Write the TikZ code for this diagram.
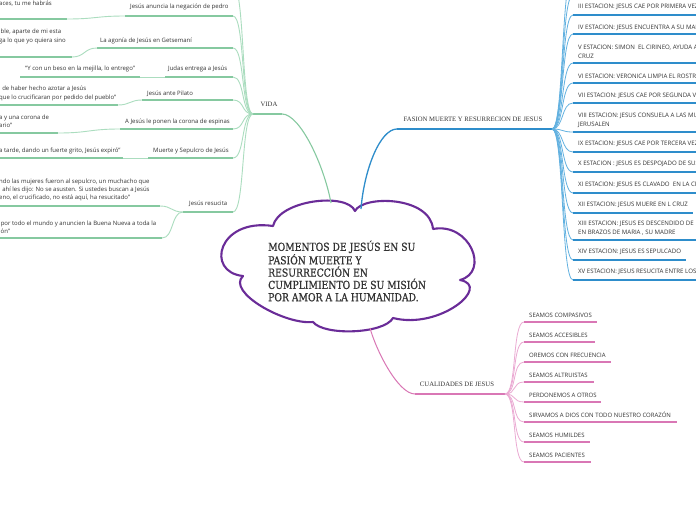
\documentclass[tikz,border=0pt]{standalone}
\usepackage{fontspec}
\newfontfamily\osans{Open Sans}
\newfontfamily\cloudf[FakeStretch=0.84,FakeBold=0.7]{DejaVu Serif}
\newfontfamily\tserif{Liberation Serif}
\definecolor{gU}{HTML}{86C9A0}
\definecolor{gC}{HTML}{ABDDBF}
\definecolor{bU}{HTML}{2E8DCB}
\definecolor{bC}{HTML}{62B1E0}
\definecolor{pU}{HTML}{D977B5}
\definecolor{pC}{HTML}{EBAAD3}
\definecolor{cloudc}{HTML}{6A2C98}
\definecolor{txt}{HTML}{333333}
\tikzset{
  lbl/.style={inner sep=0pt, anchor=west, text=txt, font=\osans\fontsize{6}{8.2}\selectfont, align=left},
  stn/.style={inner sep=0pt, anchor=west, text=txt, font=\osans\fontsize{6.1}{8.7}\selectfont, align=left},
  qual/.style={inner sep=0pt, anchor=west, text=txt, font=\osans\fontsize{6}{8}\selectfont},
  mainlbl/.style={inner sep=0pt, text=txt, font=\tserif\fontsize{6.7}{8}\selectfont},
  gund/.style={draw=gU, line width=1.8pt},
  gcon/.style={draw=gC, line width=0.9pt},
  gmain/.style={draw=gU, line width=1.1pt},
  bund/.style={draw=bU, line width=2.2pt},
  bcon/.style={draw=bC, line width=0.8pt},
  bmain/.style={draw=bU, line width=1.3pt},
  pund/.style={draw=pU, line width=1.9pt},
  pcon/.style={draw=pC, line width=0.8pt},
  pmain/.style={draw=pU, line width=1.0pt},
}
\begin{document}
\begin{tikzpicture}[x=1pt,y=-1pt]
\useasboundingbox (0,0) rectangle (696,520);
\clip (0,0) rectangle (696,520);
\fill[white] (0,0) rectangle (696,520);

% ---------- cloud ----------
\coordinate (cA) at (273,226);
\coordinate (cB) at (355,211);
\coordinate (cC) at (433,229);
\coordinate (cD) at (460,280);
\coordinate (cE) at (393,318);
\coordinate (cF) at (313,322);
\coordinate (cG) at (243,276);
\draw[cloudc, line width=2.1pt, line join=round, fill=white]
  (cA) .. controls (279,200) and (347,192) .. (cB)
       .. controls (363,195) and (430,196) .. (cC)
       .. controls (470,222) and (490,272) .. (cD)
       .. controls (492,286) and (440,330) .. (cE)
       .. controls (384,334) and (324,336) .. (cF)
       .. controls (285,325) and (226,292) .. (cG)
       .. controls (205,272) and (218,218) .. (cA) -- cycle;
\node[inner sep=0pt, anchor=west, text=txt, align=left,
      font=\cloudf\fontsize{11}{12.3}\selectfont] (title) at (268,271)
  {MOMENTOS DE JESÚS EN SU\\PASIÓN MUERTE Y\\RESURRECCIÓN EN\\CUMPLIMIENTO DE SU MISIÓN\\POR AMOR A LA HUMANIDAD.};
\coordinate (cV) at (331,203);
\coordinate (cP) at (361,209);
\coordinate (cQ) at (370,328);

% ---------- VIDA ----------
\node[mainlbl] (vida) at (269,104) {VIDA};
\coordinate (vidaL) at (253,114);
\coordinate (vidaR) at (282,114);
\draw[gmain] (vidaR) .. controls (300,114) and (324,165) .. (cV);
\draw[gund] (vidaL) -- (vidaR);

\coordinate (v0R) at (233,-15);
\coordinate (aL) at (125,16);  \coordinate (aR) at (233,16);
\coordinate (bL) at (97,48);   \coordinate (bR) at (233,48);
\coordinate (cL) at (165,77);  \coordinate (cR) at (233,77);
\coordinate (dL) at (142,100); \coordinate (dR) at (233,100);
\coordinate (eL) at (120,129); \coordinate (eR) at (233,129);
\coordinate (fL) at (148,158); \coordinate (fR) at (233,158);
\coordinate (gL) at (183,212); \coordinate (gR) at (233,212);
\foreach \c in {v0R,aR,bR,cR,dR,eR,fR,gR}
  \draw[gcon] (vidaL) .. controls +(-12,0) and +(12,0) .. (\c);

\node[lbl] (a) at (130,7) {Jesús anuncia la negación de pedro};
\node[lbl] (b) at (100,41) {La agonía de Jesús en Getsemaní};
\node[lbl] (c) at (168,69) {Judas entrega a Jesús};
\node[lbl] (d) at (147,94) {Jesús ante Pilato};
\node[lbl] (e) at (125,122) {A Jesús le ponen la corona de espinas};
\node[lbl] (f) at (153,151) {Muerte y Sepulcro de Jesús};
\node[lbl] (g) at (189,204) {Jesús resucita};
\foreach \s in {a,b,c,d,e,f,g} \draw[gund] (\s L) -- (\s R);

% leaves
\coordinate (a1L) at (-5,19);  \coordinate (a1R) at (67,19);
\coordinate (b1L) at (-5,57);  \coordinate (b1R) at (72,57);
\coordinate (c1L) at (20,77);  \coordinate (c1R) at (140,77);
\coordinate (d1L) at (-5,105); \coordinate (d1R) at (118,105);
\coordinate (e1L) at (-5,133); \coordinate (e1R) at (58,133);
\coordinate (f1L) at (-5,158); \coordinate (f1R) at (123,158);
\coordinate (g1L) at (-5,206); \coordinate (g1R) at (160,206);
\coordinate (g2L) at (-5,238); \coordinate (g2R) at (162,238);

\node[lbl] (a1) at (-1,4) {aces, tu me habrás};
\node[lbl] (b1) at (-1,36.5) {ible, aparte de mi esta\\ga lo que yo quiera sino};
\node[lbl] (c1) at (25,69) {“Y con un beso en la mejilla, lo entrego”};
\node[lbl] (d1) at (-1,93.5) {\ \ de haber hecho azotar a Jesús\\que lo crucificaran por pedido del pueblo”};
\node[lbl] (e1) at (-1,121) {a y una corona de\\ario”};
\node[lbl] (f1) at (-1,151) {a tarde, dando un fuerte grito, Jesús expiró”};
\node[lbl] (g1) at (-1,190) {ndo las mujeres fueron al sepulcro, un muchacho que\\\ \ ahí les dijo: No se asusten. Si ustedes buscan a Jesús\\eno, el crucificado, no está aquí, ha resucitado”};
\node[lbl] (g2) at (-1,227) {\ por todo el mundo y anuncien la Buena Nueva a toda la\\ión”};
\foreach \s in {a1,b1,c1,d1,e1,f1,g1,g2} \draw[gund] (\s L) -- (\s R);

\draw[gcon] (a1R) .. controls +(29,0) and +(-29,0) .. (aL);
\draw[gcon] (b1R) .. controls +(13,0) and +(-13,0) .. (bL);
\draw[gcon] (c1R) -- (cL);
\draw[gcon] (d1R) .. controls +(12,0) and +(-12,0) .. (dL);
\draw[gcon] (e1R) .. controls +(31,0) and +(-31,0) .. (eL);
\draw[gcon] (f1R) -- (fL);
\draw[gcon] (g1R) .. controls +(12,0) and +(-12,0) .. (gL);
\draw[gcon] (g2R) .. controls +(12,0) and +(-12,0) .. (gL);

% ---------- PASION ----------
\node[mainlbl] (pasion) at (473,119) {FASION MUERTE Y RESURRECION DE JESUS};
\coordinate (pL) at (397,129);
\coordinate (pR) at (552,129);
\draw[bmain] (pL) .. controls (380,129) and (364,170) .. (cP);
\draw[bund] (pL) -- (pR);

\coordinate (s1L) at (573,-26);
\coordinate (s2L) at (573,-5);
\coordinate (s3L) at (573,15);  \coordinate (s3R) at (700,15);
\coordinate (s4L) at (573,34);  \coordinate (s4R) at (700,34);
\coordinate (s5L) at (573,63);  \coordinate (s5R) at (700,63);
\coordinate (s6L) at (573,83);  \coordinate (s6R) at (700,83);
\coordinate (s7L) at (573,103); \coordinate (s7R) at (700,103);
\coordinate (s8L) at (573,132); \coordinate (s8R) at (700,132);
\coordinate (s9L) at (573,152); \coordinate (s9R) at (700,152);
\coordinate (s10L) at (573,172); \coordinate (s10R) at (700,172);
\coordinate (s11L) at (573,193); \coordinate (s11R) at (700,193);
\coordinate (s12L) at (573,213); \coordinate (s12R) at (693,213);
\coordinate (s13L) at (573,240); \coordinate (s13R) at (700,240);
\coordinate (s14L) at (573,260); \coordinate (s14R) at (686,260);
\coordinate (s15L) at (573,280); \coordinate (s15R) at (700,280);
\foreach \c in {s1L,s2L,s3L,s4L,s5L,s6L,s7L,s8L,s9L,s10L,s11L,s12L,s13L,s14L,s15L}
  \draw[bcon] (pR) .. controls +(12,0) and +(-12,0) .. (\c);
\foreach \i in {3,...,15} \draw[bund] (s\i L) -- (s\i R);

\node[stn] (s3) at (578,7) {III ESTACION: JESUS CAE POR PRIMERA VEZ};
\node[stn] (s4) at (578,28) {IV ESTACION: JESUS ENCUENTRA A SU MADRE};
\node[stn] (s5) at (578,52) {V ESTACION: SIMON \ EL CIRINEO, AYUDA A\\CRUZ};
\node[stn] (s6) at (578,76) {VI ESTACION: VERONICA LIMPIA EL ROSTRO};
\node[stn] (s7) at (578,96) {VII ESTACION: JESUS CAE POR SEGUNDA VEZ};
\node[stn] (s8) at (578,120.5) {VIII ESTACION: JESUS CONSUELA A LAS MUJERES\\JERUSALEN};
\node[stn] (s9) at (578,144) {IX ESTACION: JESUS CAE POR TERCERA VEZ};
\node[stn] (s10) at (578,164) {X ESTACION : JESUS ES DESPOJADO DE SUS};
\node[stn] (s11) at (578,185) {XI ESTACION: JESUS ES CLAVADO \ EN LA CRUZ};
\node[stn] (s12) at (578,205) {XII ESTACION: JESUS MUERE EN L CRUZ};
\node[stn] (s13) at (578,228.5) {XIII ESTACION: JESUS ES DESCENDIDO DE\\EN BRAZOS DE MARIA , SU MADRE};
\node[stn] (s14) at (578,252) {XIV ESTACION: JESUS ES SEPULCADO};
\node[stn] (s15) at (578,272) {XV ESTACION: JESUS RESUCITA ENTRE LOS};

% ---------- CUALIDADES ----------
\node[mainlbl] (cual) at (457,384) {CUALIDADES DE JESUS};
\coordinate (qL) at (415,394);
\coordinate (qR) at (505,394);
\draw[pmain] (cQ) .. controls (376,350) and (398,394) .. (qL);
\draw[pund] (qL) -- (qR);

\coordinate (q1L) at (524,322); \coordinate (q1R) at (597,322);
\coordinate (q2L) at (524,342); \coordinate (q2R) at (595,342);
\coordinate (q3L) at (524,362); \coordinate (q3R) at (611,362);
\coordinate (q4L) at (524,382); \coordinate (q4R) at (594,382);
\coordinate (q5L) at (524,402); \coordinate (q5R) at (601,402);
\coordinate (q6L) at (524,422); \coordinate (q6R) at (677,422);
\coordinate (q7L) at (524,442); \coordinate (q7R) at (590,442);
\coordinate (q8L) at (524,462); \coordinate (q8R) at (591,462);
\foreach \i in {1,...,8} {
  \draw[pcon] (qR) .. controls +(12,0) and +(-12,0) .. (q\i L);
  \draw[pund] (q\i L) -- (q\i R);
}
\node[qual] (q1) at (529,315) {SEAMOS COMPASIVOS};
\node[qual] (q2) at (529,335) {SEAMOS ACCESIBLES};
\node[qual] (q3) at (529,355) {OREMOS CON FRECUENCIA};
\node[qual] (q4) at (529,375) {SEAMOS ALTRUISTAS};
\node[qual] (q5) at (529,395) {PERDONEMOS A OTROS};
\node[qual] (q6) at (529,415) {SIRVAMOS A DIOS CON TODO NUESTRO CORAZÓN};
\node[qual] (q7) at (529,435) {SEAMOS HUMILDES};
\node[qual] (q8) at (529,455) {SEAMOS PACIENTES};
\end{tikzpicture}
\end{document}
